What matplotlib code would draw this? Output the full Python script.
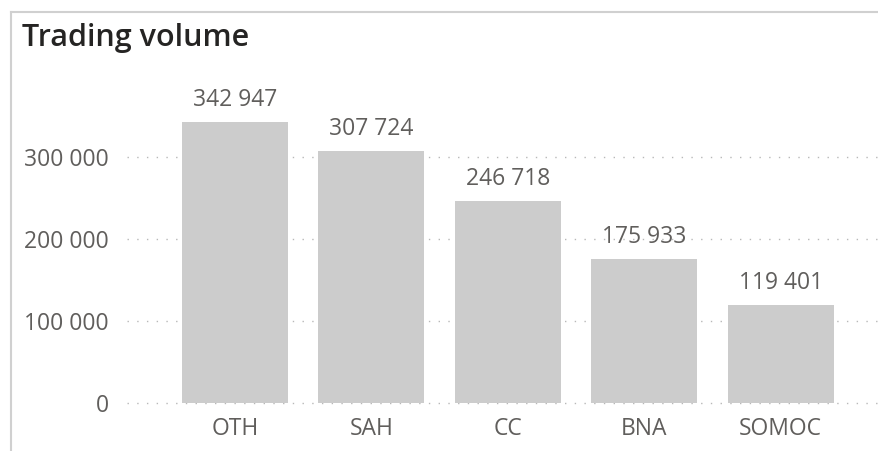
import matplotlib
matplotlib.use("Agg")
import matplotlib.pyplot as plt
from matplotlib.lines import Line2D
from matplotlib.ticker import FuncFormatter, FixedLocator

categories = ["OTH", "SAH", "CC", "BNA", "SOMOC"]
volumes = [342947, 307724, 246718, 175933, 119401]
yticks = [0, 100000, 200000, 300000]
title = "Trading volume"

plt.rcParams['font.family'] = ['Open Sans', 'DejaVu Sans']

W, H = 879, 451
fig = plt.figure(figsize=(W / 100, H / 100), dpi=100)
fig.patch.set_facecolor("white")

px_per_unit = 82 / 100000
y0_px = 403
bot_px = y0_px + 3
top_px = y0_px - 380000 * px_per_unit
ax = fig.add_axes([127 / W, (H - bot_px) / H, 1 - 127 / W, (bot_px - top_px) / H])

x = list(range(len(categories)))
ax.bar(x, volumes, width=0.777, color="#CCCCCC", zorder=2)
ax.set_xlim(-0.79, 4.72)
ax.set_ylim(-3 / px_per_unit, 380000)

ax.yaxis.set_major_locator(FixedLocator(yticks))
ax.yaxis.set_major_formatter(FuncFormatter(lambda v, p: f"{int(v):,}".replace(",", " ")))
ax.set_xticks(x)
ax.set_xticklabels(categories)

for s in ax.spines.values():
    s.set_visible(False)
ax.tick_params(axis="both", length=0, labelsize=16.5, colors="#605E5C")
ax.tick_params(axis="y", pad=13)
ax.tick_params(axis="x", pad=8)
ax.grid(axis="y", linestyle=(0, (1, 6)), color="#B8B8B8", linewidth=1.0, zorder=0)
ax.set_axisbelow(True)

for xi, v in zip(x, volumes):
    ax.annotate(f"{v:,}".replace(",", " "), (xi, v), xytext=(0, 7), textcoords="offset points",
                ha="center", va="bottom", fontsize=16.5, color="#605E5C")

fig.text(22 / W, 1 - 38 / H, title, fontsize=22, fontweight="semibold", color="#252423",
         va="center", ha="left")

fig.add_artist(Line2D([11.5 / W, 1], [1 - 11.5 / H, 1 - 11.5 / H], color="#D0D0D0", linewidth=1.5,
                      transform=fig.transFigure))
fig.add_artist(Line2D([11.5 / W, 11.5 / W], [0, 1 - 11.5 / H], color="#D0D0D0", linewidth=1.5,
                      transform=fig.transFigure))

fig.savefig("out.png", dpi=100)
